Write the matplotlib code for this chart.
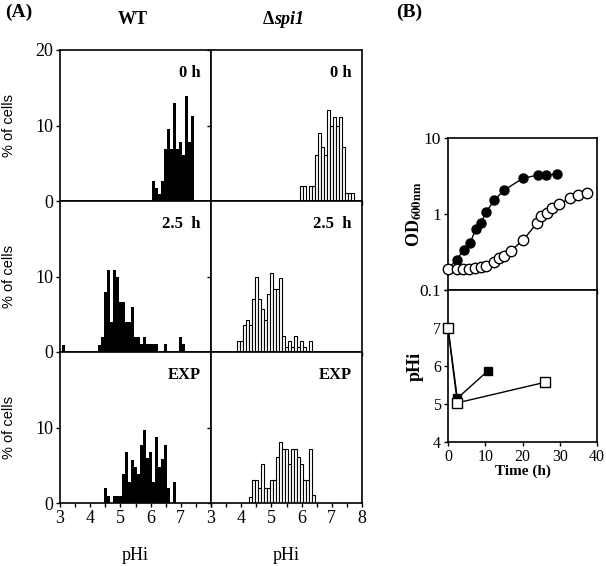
import matplotlib
matplotlib.use("Agg")
import matplotlib.pyplot as plt

plt.rcParams['font.family'] = ['Liberation Serif', 'DejaVu Serif']
plt.rcParams['mathtext.fontset'] = 'stix'

# ---- panel A: pHi histograms (bin centre pH, % of cells) ----
wt_0h_ph = [6.1, 6.2, 6.3, 6.4, 6.5, 6.6, 6.7, 6.8, 6.9, 7.0, 7.1, 7.2, 7.3, 7.4]
wt_0h_pct = [2.6, 1.7, 0.9, 2.6, 6.9, 9.5, 6.9, 13.0, 6.9, 7.8, 6.1, 13.9, 7.8, 11.3]

wt_25h_ph = [3.1, 4.3, 4.4, 4.5, 4.6, 4.7, 4.8, 4.9, 5.0, 5.1, 5.2, 5.3, 5.4, 5.5,
             5.6, 5.7, 5.8, 5.9, 6.0, 6.1, 6.2, 6.5, 7.0, 7.1]
wt_25h_pct = [0.9, 0.9, 2.0, 7.9, 10.9, 4.0, 10.9, 9.9, 6.6, 6.6, 4.0, 4.0, 6.0, 2.0,
              2.0, 1.0, 2.0, 1.0, 1.0, 1.0, 1.0, 1.0, 2.0, 1.0]

wt_exp_ph = [4.5, 4.6, 4.8, 4.9, 5.0, 5.1, 5.2, 5.3, 5.4, 5.5, 5.6, 5.7, 5.8, 5.9,
             6.0, 6.1, 6.2, 6.3, 6.4, 6.5, 6.6, 6.8]
wt_exp_pct = [2.0, 0.9, 0.9, 0.9, 0.9, 3.9, 6.8, 2.8, 5.7, 4.8, 3.9, 7.7, 9.7, 6.0,
              6.8, 2.8, 8.8, 4.8, 5.8, 7.7, 2.0, 2.8]

spi_0h_ph = [6.0, 6.1, 6.3, 6.4, 6.5, 6.6, 6.7, 6.8, 6.9, 7.0, 7.1, 7.2, 7.3, 7.4,
             7.5, 7.6, 7.7]
spi_0h_pct = [2.0, 2.0, 2.0, 2.0, 6.1, 9.0, 7.1, 6.1, 12.1, 10.0, 11.1, 10.0, 11.1, 7.1,
              1.0, 1.0, 1.0]

spi_25h_ph = [3.9, 4.0, 4.1, 4.2, 4.3, 4.4, 4.5, 4.6, 4.7, 4.8, 4.9, 5.0, 5.1, 5.2,
              5.3, 5.4, 5.5, 5.6, 5.7, 5.8, 5.9, 6.0, 6.1, 6.3]
spi_25h_pct = [1.4, 1.4, 3.6, 4.3, 3.6, 7.0, 10.0, 7.0, 5.7, 4.3, 7.7, 10.5, 8.4, 8.4,
               9.8, 2.1, 0.7, 1.4, 0.7, 2.1, 0.7, 1.4, 0.7, 1.4]

spi_exp_ph = [4.3, 4.4, 4.5, 4.6, 4.7, 4.8, 4.9, 5.0, 5.1, 5.2, 5.3, 5.4, 5.5, 5.6,
              5.7, 5.8, 5.9, 6.0, 6.1, 6.2, 6.3, 6.4]
spi_exp_pct = [0.85, 3.1, 3.1, 2.0, 5.1, 2.0, 2.0, 3.1, 3.1, 6.1, 8.1, 7.1, 7.1, 5.1,
               7.1, 7.1, 6.1, 5.1, 3.1, 3.1, 7.1, 1.0]

row_labels = ['0 h', '2.5  h', 'EXP']

# ---- panel B: growth (OD600) and pHi vs time ----
wt_od_t = [0.1, 2.3, 4.3, 6.0, 7.4, 8.9, 10.2, 12.4, 15.0, 20.1, 24.2, 26.2, 29.3]
wt_od = [0.19, 0.25, 0.34, 0.42, 0.63, 0.77, 1.06, 1.51, 2.05, 2.95, 3.26, 3.26, 3.33]
spi_od_t = [0.1, 2.3, 4.1, 5.7, 7.2, 8.9, 10.2, 12.4, 13.7, 15.0, 16.8, 20.1, 23.8,
            25.1, 26.6, 27.8, 29.7, 32.8, 34.8, 37.2]
spi_od = [0.19, 0.19, 0.19, 0.19, 0.195, 0.2, 0.21, 0.236, 0.26, 0.28, 0.326, 0.45, 0.75,
          0.94, 1.04, 1.19, 1.34, 1.61, 1.78, 1.91]

wt_phi_t = [0, 2.5, 10.8]
wt_phi = [7.0, 5.15, 5.88]
spi_phi_t = [0, 2.5, 26.0]
spi_phi = [7.0, 5.03, 5.57]

W, H = 606, 566
fig = plt.figure(figsize=(W / 100, H / 100), dpi=100)


def add_ax(x0, y0, x1, y1):
    return fig.add_axes([x0 / W, 1 - y1 / H, (x1 - x0) / W, (y1 - y0) / H])


cols = [(60, 211), (211, 362)]
rows = [(50, 201), (201, 352), (352, 503)]
hist = [[(wt_0h_ph, wt_0h_pct), (spi_0h_ph, spi_0h_pct)],
        [(wt_25h_ph, wt_25h_pct), (spi_25h_ph, spi_25h_pct)],
        [(wt_exp_ph, wt_exp_pct), (spi_exp_ph, spi_exp_pct)]]

for r, (y0, y1) in enumerate(rows):
    for c, (x0, x1) in enumerate(cols):
        ax = add_ax(x0, y0, x1, y1)
        ph, pct = hist[r][c]
        if c == 0:
            ax.bar(ph, pct, width=0.1, color='black', linewidth=0)
        else:
            ax.bar(ph, pct, width=0.1, facecolor='white', edgecolor='black', linewidth=0.8)
        ax.set_xlim(3, 8)
        ax.set_ylim(0, 20)
        ax.set_xticks([3, 3.5, 4, 4.5, 5, 5.5, 6, 6.5, 7, 7.5, 8])
        if r == 2:
            labs = ['3', '', '4', '', '5', '', '6', '', '7', '', '8' if c == 1 else '']
            ax.set_xticklabels(labs)
            ax.set_xlabel('pHi', fontsize=13)
            ax.xaxis.set_label_coords(0.5, -0.29)
        else:
            ax.set_xticklabels([])
        ax.set_yticks([0, 10, 20] if r == 0 else [0, 10])
        if c == 0:
            ax.set_ylabel('% of cells', family=['Liberation Sans', 'DejaVu Sans'], fontsize=10.5)
            ax.yaxis.set_label_coords(-0.29, 0.5)
        else:
            ax.set_yticklabels([])
        ax.tick_params(direction='out', length=3, width=1, labelsize=13, pad=2)
        for s in ax.spines.values():
            s.set_linewidth(1.2)
        ax.text(0.93, 0.82, row_labels[r], transform=ax.transAxes, ha='right',
                fontsize=12, fontweight='bold')

fig.text(19 / W, 1 - 12 / H, '(A)', fontsize=14, fontweight='bold', ha='center', va='center')
fig.text(133 / W, 1 - 19 / H, 'WT', fontsize=13, fontweight='bold', ha='center', va='center')
fig.text(274 / W, 1 - 19 / H, '\u0394', fontsize=13, fontweight='bold', ha='right', va='center')
fig.text(274 / W, 1 - 19 / H, 'spi1', fontsize=13, fontweight='bold', style='italic',
         ha='left', va='center')
fig.text(409 / W, 1 - 12 / H, '(B)', fontsize=14, fontweight='bold', ha='center', va='center')

# panel B upper: OD
axb = add_ax(448, 138, 597, 290)
axb.plot(wt_od_t, wt_od, color='black', lw=1)
axb.plot(wt_od_t, wt_od, 'o', color='black', ms=6.5, clip_on=False, zorder=3)
axb.plot(spi_od_t, spi_od, color='black', lw=1)
axb.plot(spi_od_t, spi_od, 'o', mfc='white', mec='black', mew=1, ms=7.5,
         clip_on=False, zorder=3)
axb.set_yscale('log')
axb.set_ylim(0.1, 10)
axb.set_xlim(0, 40)
axb.set_yticks([0.1, 1, 10])
axb.set_yticklabels(['0.1', '1', '10'])
axb.minorticks_off()
axb.set_xticks([0, 10, 20, 30, 40])
axb.set_xticklabels([])
axb.tick_params(direction='out', length=3, width=1, labelsize=12.5, pad=2)
axb.set_ylabel(r'OD$_{\mathbf{600nm}}$', fontsize=13, fontweight='bold')
axb.yaxis.set_label_coords(-0.16, 0.5)

# panel B lower: pHi
axc = add_ax(448, 290, 597, 442)
axc.plot(wt_phi_t, wt_phi, color='black', lw=1)
axc.plot(wt_phi_t, wt_phi, 's', color='black', ms=6, clip_on=False, zorder=3)
axc.plot(spi_phi_t, spi_phi, color='black', lw=1)
axc.plot(spi_phi_t, spi_phi, 's', mfc='white', mec='black', mew=1, ms=7,
         clip_on=False, zorder=3)
axc.set_xlim(0, 40)
axc.set_ylim(4, 8)
axc.set_yticks([4, 5, 6, 7, 8])
axc.set_yticklabels(['4', '5', '6', '7', ''])
axc.set_xticks([0, 10, 20, 30, 40])
axc.tick_params(direction='out', length=3, width=1, labelsize=11.5, pad=2)
axc.set_ylabel('pHi', fontsize=13, fontweight='bold')
axc.yaxis.set_label_coords(-0.16, 0.5)
axc.set_xlabel('Time (h)', fontsize=11, fontweight='bold')
axc.xaxis.set_label_coords(0.5, -0.145)

for a in (axb, axc):
    for s in a.spines.values():
        s.set_linewidth(1.2)

fig.savefig('out.png', dpi=100)
